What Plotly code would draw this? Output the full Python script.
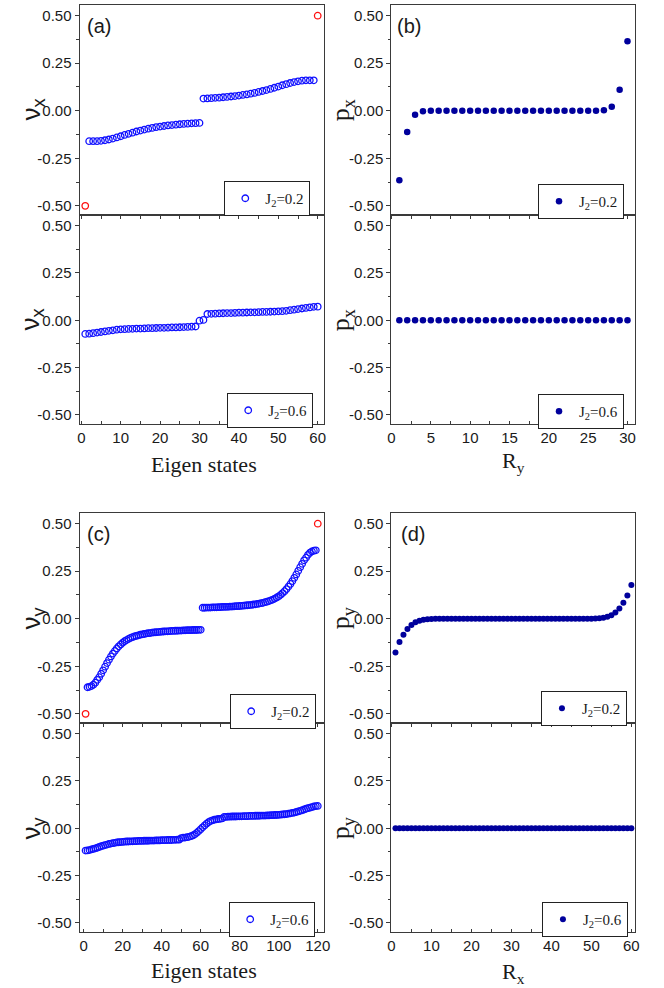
import plotly.graph_objects as go

W, H = 664, 988

# ---------------- data ----------------
# (a) nu_x, 60 eigen states
a_top_x = list(range(2, 60))
a_top_y = [-0.160, -0.160, -0.160, -0.158, -0.155, -0.151, -0.146, -0.140, -0.134, -0.127,
           -0.121, -0.115, -0.109, -0.104, -0.099, -0.094, -0.090, -0.086, -0.083, -0.080,
           -0.077, -0.075, -0.073, -0.071, -0.069, -0.068, -0.066, -0.065, -0.064,
           0.064, 0.065, 0.066, 0.068, 0.069, 0.071, 0.073, 0.075, 0.077, 0.080,
           0.083, 0.086, 0.090, 0.094, 0.099, 0.104, 0.109, 0.115, 0.121, 0.127,
           0.134, 0.140, 0.146, 0.151, 0.155, 0.158, 0.160, 0.160, 0.160]
a_edge_x = [1, 60]
a_edge_y = [-0.50, 0.50]
a_bot_x = list(range(1, 61))
a_bot_y = [-0.072, -0.071, -0.068, -0.065, -0.062, -0.059, -0.056, -0.053, -0.050, -0.048,
           -0.047, -0.046, -0.045, -0.044, -0.044, -0.043, -0.042, -0.042, -0.041, -0.040,
           -0.040, -0.039, -0.038, -0.038, -0.037, -0.036, -0.035, -0.034, -0.033, -0.002,
           0.002, 0.033, 0.034, 0.035, 0.036, 0.037, 0.038, 0.038, 0.039, 0.040,
           0.040, 0.041, 0.042, 0.042, 0.043, 0.044, 0.044, 0.045, 0.046, 0.047,
           0.048, 0.050, 0.053, 0.056, 0.059, 0.062, 0.065, 0.068, 0.071, 0.072]

# (b) p_x vs R_y
b_x = list(range(1, 31))
b_top_y = [-0.365, -0.111, -0.021, -0.003, 0.0, 0.0, 0.0, 0.0, 0.0, 0.0,
           0.0, 0.0, 0.0, 0.0, 0.0, 0.0, 0.0, 0.0, 0.0, 0.0,
           0.0, 0.0, 0.0, 0.0, 0.0, 0.0, 0.003, 0.021, 0.111, 0.365]
b_bot_y = [0.0, 0.0, 0.0, 0.0, 0.0, 0.0, 0.0, 0.0, 0.0, 0.0,
           0.0, 0.0, 0.0, 0.0, 0.0, 0.0, 0.0, 0.0, 0.0, 0.0,
           0.0, 0.0, 0.0, 0.0, 0.0, 0.0, 0.0, 0.0, 0.0, 0.0]

# (c) nu_y, 120 eigen states
c_top_x = list(range(2, 120))
c_top_y = [-0.360, -0.358, -0.354, -0.347, -0.336, -0.321, -0.307, -0.289, -0.271, -0.252,
           -0.233, -0.215, -0.198, -0.183, -0.169, -0.156, -0.145, -0.135, -0.126, -0.118,
           -0.112, -0.106, -0.101, -0.097, -0.093, -0.090, -0.087, -0.084, -0.082, -0.080,
           -0.078, -0.076, -0.075, -0.073, -0.072, -0.071, -0.070, -0.069, -0.068, -0.067,
           -0.066, -0.066, -0.065, -0.064, -0.064, -0.063, -0.063, -0.062, -0.062, -0.061,
           -0.061, -0.060, -0.060, -0.060, -0.059, -0.059, -0.059, -0.058, -0.058,
           0.058, 0.058, 0.059, 0.059, 0.059, 0.060, 0.060, 0.060, 0.061,
           0.061, 0.062, 0.062, 0.063, 0.063, 0.064, 0.064, 0.065, 0.066, 0.066,
           0.067, 0.068, 0.069, 0.070, 0.071, 0.072, 0.073, 0.075, 0.076, 0.078,
           0.080, 0.082, 0.084, 0.087, 0.090, 0.093, 0.097, 0.101, 0.106, 0.112,
           0.118, 0.126, 0.135, 0.145, 0.156, 0.169, 0.183, 0.198, 0.215, 0.233,
           0.252, 0.271, 0.289, 0.307, 0.321, 0.336, 0.347, 0.354, 0.358, 0.360]
c_edge_x = [1, 120]
c_edge_y = [-0.50, 0.50]
c_bot_x = list(range(1, 121))
c_bot_y = [-0.118, -0.117, -0.115, -0.112, -0.109, -0.106, -0.103, -0.099, -0.095, -0.092,
           -0.089, -0.086, -0.083, -0.081, -0.079, -0.077, -0.075, -0.074, -0.073, -0.072,
           -0.071, -0.070, -0.070, -0.069, -0.069, -0.068, -0.068, -0.067, -0.067, -0.067,
           -0.066, -0.066, -0.066, -0.065, -0.065, -0.065, -0.064, -0.064, -0.064, -0.063,
           -0.063, -0.063, -0.062, -0.062, -0.062, -0.061, -0.061, -0.060, -0.060, -0.052,
           -0.050, -0.049, -0.047, -0.045, -0.042, -0.038, -0.032, -0.024, -0.015, -0.005,
           0.005, 0.015, 0.024, 0.032, 0.038, 0.042, 0.045, 0.047, 0.049, 0.050,
           0.052, 0.060, 0.060, 0.061, 0.061, 0.062, 0.062, 0.062, 0.063, 0.063,
           0.063, 0.064, 0.064, 0.064, 0.065, 0.065, 0.065, 0.066, 0.066, 0.066,
           0.067, 0.067, 0.067, 0.068, 0.068, 0.069, 0.069, 0.070, 0.070, 0.071,
           0.072, 0.073, 0.074, 0.075, 0.077, 0.079, 0.081, 0.083, 0.086, 0.089,
           0.092, 0.095, 0.099, 0.103, 0.106, 0.109, 0.112, 0.115, 0.117, 0.118]

# (d) p_y vs R_x
d_x = list(range(1, 61))
d_top_y = [-0.178, -0.122, -0.084, -0.054, -0.033, -0.019, -0.011, -0.005, -0.003, -0.001,
           0.0, 0.0, 0.0, 0.0, 0.0, 0.0, 0.0, 0.0, 0.0, 0.0,
           0.0, 0.0, 0.0, 0.0, 0.0, 0.0, 0.0, 0.0, 0.0, 0.0,
           0.0, 0.0, 0.0, 0.0, 0.0, 0.0, 0.0, 0.0, 0.0, 0.0,
           0.0, 0.0, 0.0, 0.0, 0.0, 0.0, 0.0, 0.0, 0.0, 0.0,
           0.001, 0.003, 0.005, 0.011, 0.019, 0.033, 0.054, 0.084, 0.122, 0.178]
d_bot_y = [0.0, 0.0, 0.0, 0.0, 0.0, 0.0, 0.0, 0.0, 0.0, 0.0,
           0.0, 0.0, 0.0, 0.0, 0.0, 0.0, 0.0, 0.0, 0.0, 0.0,
           0.0, 0.0, 0.0, 0.0, 0.0, 0.0, 0.0, 0.0, 0.0, 0.0,
           0.0, 0.0, 0.0, 0.0, 0.0, 0.0, 0.0, 0.0, 0.0, 0.0,
           0.0, 0.0, 0.0, 0.0, 0.0, 0.0, 0.0, 0.0, 0.0, 0.0,
           0.0, 0.0, 0.0, 0.0, 0.0, 0.0, 0.0, 0.0, 0.0, 0.0]

assert len(a_top_y) == len(a_top_x)
assert len(a_bot_y) == len(a_bot_x)
assert len(b_top_y) == len(b_x) and len(b_bot_y) == len(b_x)
assert len(c_top_y) == len(c_top_x)
assert len(c_bot_y) == len(c_bot_x)
assert len(d_top_y) == len(d_x) and len(d_bot_y) == len(d_x)

y_tickvals = [-0.5, -0.25, 0.0, 0.25, 0.5]
y_ticktext = ["-0.50", "-0.25", "0.00", "0.25", "0.50"]
legend_labels = ["J<sub>2</sub>=0.2", "J<sub>2</sub>=0.6"]

# ---------------- layout helpers ----------------
def px_x(p):
    return p / W

def px_y(p):
    return 1 - p / H

LINE = "#3a3a3a"
TXT = "#1a1a1a"
OPEN_BLUE = "#1010ff"
FILL_BLUE = "#00009c"
RED = "#ff1010"

# panel boxes in pixels: (x0, x1, ytop, ybot)
boxes = {
    1: (77, 325, 5, 215),
    2: (77, 325, 215, 424),
    3: (394, 642, 5, 215),
    4: (394, 642, 215, 424),
    5: (77, 325, 513, 723),
    6: (77, 325, 723, 932),
    7: (394, 642, 513, 723),
    8: (394, 642, 723, 932),
}
xranges = {1: [-0.4, 61.5], 2: [-0.4, 61.5], 3: [0, 31], 4: [0, 31],
           5: [-2, 123], 6: [-2, 123], 7: [0, 61], 8: [0, 61]}
xdticks = {1: (10, 5), 2: (10, 5), 3: (5, 2.5), 4: (5, 2.5),
           5: (20, 10), 6: (20, 10), 7: (10, 5), 8: (10, 5)}

fig = go.Figure()

def open_trace(x, y, k, name, legend, color=OPEN_BLUE, show=True):
    fig.add_trace(go.Scatter(
        x=x, y=y, mode="markers", name=name,
        xaxis="x" if k == 1 else f"x{k}", yaxis="y" if k == 1 else f"y{k}",
        marker=dict(symbol="circle-open", size=6.5, color=color, line=dict(width=1.3, color=color)),
        showlegend=show, legend=legend))

def fill_trace(x, y, k, name, legend, size=6.5):
    fig.add_trace(go.Scatter(
        x=x, y=y, mode="markers", name=name,
        xaxis="x" if k == 1 else f"x{k}", yaxis="y" if k == 1 else f"y{k}",
        marker=dict(symbol="circle", size=size, color=FILL_BLUE, line=dict(width=0)),
        showlegend=True, legend=legend))

open_trace(a_top_x, a_top_y, 1, legend_labels[0], "legend")
open_trace(a_edge_x, a_edge_y, 1, "edge", "legend", color=RED, show=False)
open_trace(a_bot_x, a_bot_y, 2, legend_labels[1], "legend2")
fill_trace(b_x, b_top_y, 3, legend_labels[0], "legend3")
fill_trace(b_x, b_bot_y, 4, legend_labels[1], "legend4")
open_trace(c_top_x, c_top_y, 5, legend_labels[0], "legend5")
open_trace(c_edge_x, c_edge_y, 5, "edge", "legend5", color=RED, show=False)
open_trace(c_bot_x, c_bot_y, 6, legend_labels[1], "legend6")
fill_trace(d_x, d_top_y, 7, legend_labels[0], "legend7", size=6)
fill_trace(d_x, d_bot_y, 8, legend_labels[1], "legend8", size=6)

layout = dict(
    width=W, height=H, autosize=False,
    margin=dict(l=0, r=0, t=0, b=0),
    paper_bgcolor="white", plot_bgcolor="white",
    showlegend=True,
)

for k, (x0, x1, yt, yb) in boxes.items():
    xa = "xaxis" if k == 1 else f"xaxis{k}"
    ya = "yaxis" if k == 1 else f"yaxis{k}"
    lower = (k % 2 == 0)
    major, minor = xdticks[k]
    layout[xa] = dict(
        domain=[px_x(x0), px_x(x1)], range=xranges[k],
        anchor="y" if k == 1 else f"y{k}",
        showgrid=False, zeroline=False,
        showline=True, mirror=True, linecolor=LINE, linewidth=1.3,
        tick0=0, dtick=major,
        ticks="inside" if lower else "outside", ticklen=3, tickcolor=LINE, tickwidth=1,
        minor=dict(dtick=minor, tick0=0, ticks="inside" if lower else "outside",
                   ticklen=3, tickcolor=LINE, tickwidth=1),
        showticklabels=lower,
        tickfont=dict(family="Liberation Sans", size=15, color=TXT),
    )
    layout[ya] = dict(
        domain=[px_y(yb), px_y(yt)], range=[-0.548, 0.556],
        anchor="x" if k == 1 else f"x{k}",
        showgrid=False, zeroline=False,
        showline=True, mirror=True, linecolor=LINE, linewidth=1.3,
        tickmode="array", tickvals=y_tickvals, ticktext=y_ticktext,
        ticks="outside", ticklen=4, tickcolor=LINE, tickwidth=1,
        minor=dict(dtick=0.125, tick0=0, ticks="outside", ticklen=2.5, tickcolor=LINE, tickwidth=1),
        tickfont=dict(family="Liberation Sans", size=15, color=TXT),
    )

# legends positioned at each panel's lower right
legend_pos = {
    "legend": (224, 181), "legend2": (227, 393),
    "legend3": (543, 184), "legend4": (543, 394),
    "legend5": (230, 694), "legend6": (229, 902),
    "legend7": (546, 691), "legend8": (547, 902),
}
for name, (lx, ly) in legend_pos.items():
    layout[name] = dict(
        x=px_x(lx), y=px_y(ly), xanchor="left", yanchor="top",
        bgcolor="white", bordercolor="#222", borderwidth=1,
        font=dict(family="Liberation Serif", size=15, color=TXT),
        itemwidth=30,
    )

annotations = []
# panel letters
for txt, lx, ty in [("(a)", 82, 13), ("(b)", 398, 13), ("(c)", 82, 521), ("(d)", 402, 521)]:
    annotations.append(dict(text=txt, x=px_x(lx), y=px_y(ty), xref="paper", yref="paper",
                            xanchor="left", yanchor="top", showarrow=False,
                            font=dict(family="Liberation Sans", size=20, color=TXT)))
# y-axis titles
ytitles = [("ν<sub>x</sub>", 28, 110, "Liberation Sans"), ("ν<sub>x</sub>", 28, 320, "Liberation Sans"),
           ("p<sub>x</sub>", 344, 110, "Liberation Serif"), ("p<sub>x</sub>", 344, 320, "Liberation Serif"),
           ("ν<sub>y</sub>", 28, 618, "Liberation Sans"), ("ν<sub>y</sub>", 28, 828, "Liberation Sans"),
           ("p<sub>y</sub>", 344, 618, "Liberation Serif"), ("p<sub>y</sub>", 344, 828, "Liberation Serif")]
for txt, cx, cy, fam in ytitles:
    annotations.append(dict(text=txt, x=px_x(cx), y=px_y(cy), xref="paper", yref="paper",
                            xanchor="center", yanchor="middle", showarrow=False, textangle=-90,
                            font=dict(family=fam, size=26, color=TXT)))
# x-axis titles
xtitles = [("Eigen states", 203, 465), ("R<sub>y</sub>", 518, 462),
           ("Eigen states", 203, 970), ("R<sub>x</sub>", 518, 973)]
for txt, cx, cy in xtitles:
    annotations.append(dict(text=txt, x=px_x(cx), y=px_y(cy), xref="paper", yref="paper",
                            xanchor="center", yanchor="middle", showarrow=False,
                            font=dict(family="Liberation Serif", size=22, color=TXT)))
layout["annotations"] = annotations

fig.update_layout(**layout)
fig.write_html("out.html")
